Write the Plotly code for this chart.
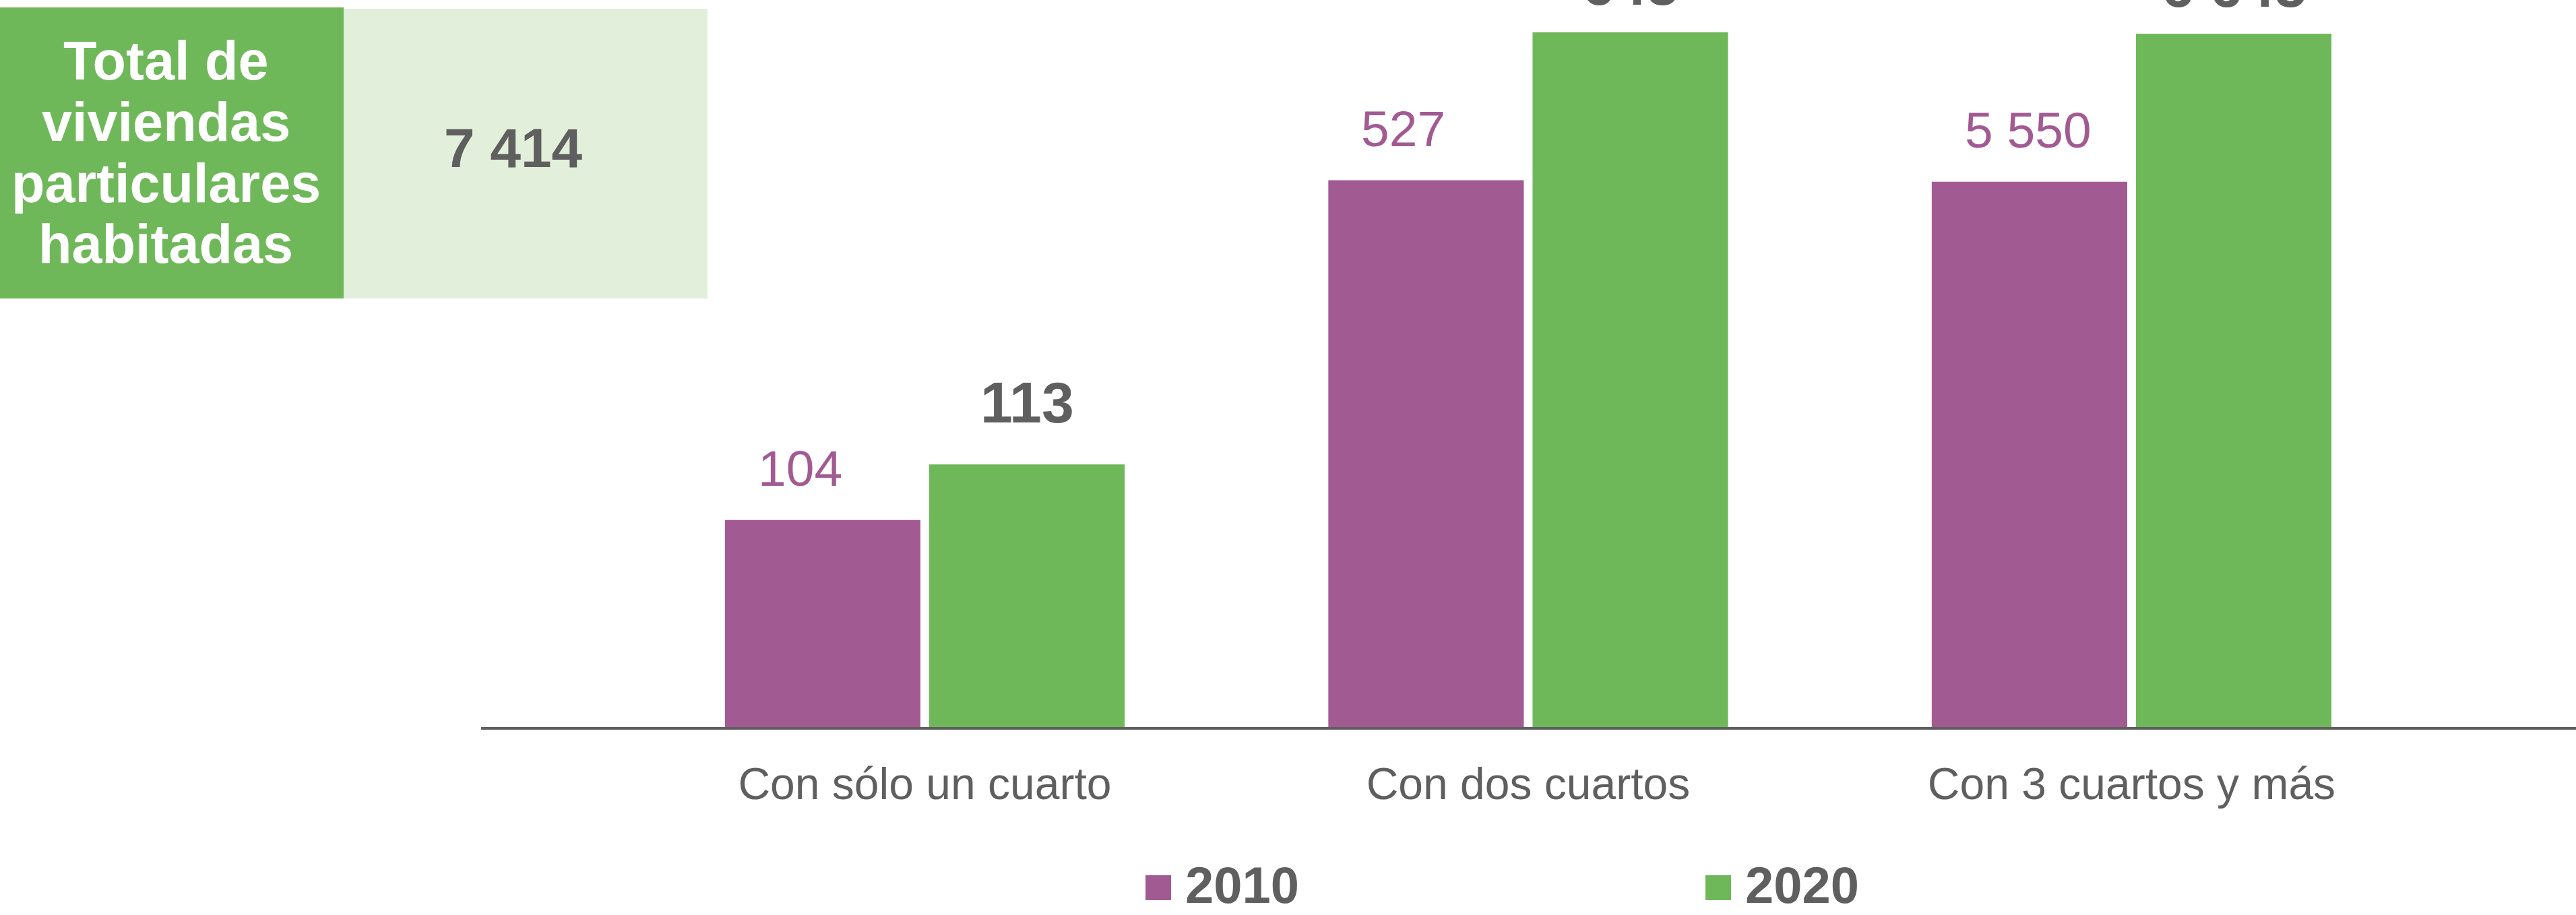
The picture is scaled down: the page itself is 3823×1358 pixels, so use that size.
import plotly.graph_objects as go

# ---------------- data ----------------
categories = ["Con sólo un cuarto", "Con dos cuartos", "Con 3 cuartos y más"]
series_names = ["2010", "2020"]
labels_2010 = ["104", "527", "5 550"]
labels_2020 = ["113", "645", "6 645"]
# bar lengths as drawn in the picture (relative units, tallest = 100)
bar_len_2010 = [29.8, 78.7, 78.5]
bar_len_2020 = [37.8, 100.0, 99.8]
total_title = ["Total de", "viviendas", "particulares", "habitadas"]
total_value = "7 414"

# ---------------- style ----------------
W, H = 3823, 1358
PL, PR, PT, PB = 714, 3823, 0, 1079
PURPLE = "#A25A93"
GREEN = "#6FB85A"
LIGHT = "#E2EFDA"
GREY = "#5F5F5F"
FONT = "Liberation Sans, Arial, sans-serif"
BARGAP, BARGROUPGAP = 0.323, 0.043
YMAX = 100 * (PB - PT) / 1031.0


def px(x):
    return (x - PL) / (PR - PL)


def py(y):
    return (PB - y) / (PB - PT)


fig = go.Figure()
fig.add_bar(x=categories, y=bar_len_2010, name=series_names[0],
            marker=dict(color=PURPLE, line=dict(width=0)), showlegend=False)
fig.add_bar(x=categories, y=bar_len_2020, name=series_names[1],
            marker=dict(color=GREEN, line=dict(width=0)), showlegend=False)

ann = []
slot = (1 - BARGAP) / 2
barw = slot * (1 - BARGROUPGAP)
lift_2020 = [61, 40, 39]
for i in range(len(categories)):
    left_2010 = i - slot / 2 - barw / 2
    ann.append(dict(x=left_2010, y=bar_len_2010[i], xref="x", yref="y",
                    text=labels_2010[i], showarrow=False, xanchor="left",
                    yanchor="bottom", xshift=47, yshift=50 - 17,
                    font=dict(family=FONT, size=75, color=PURPLE)))
    ann.append(dict(x=i + slot / 2, y=bar_len_2020[i], xref="x", yref="y",
                    text="<b>%s</b>" % labels_2020[i], showarrow=False,
                    xanchor="center", yanchor="bottom",
                    yshift=lift_2020[i] - 19,
                    font=dict(family=FONT, size=86, color=GREY)))

# left summary panel
shapes = [
    dict(type="rect", xref="paper", yref="paper", x0=px(0), x1=px(510),
         y0=py(443), y1=py(11), fillcolor=GREEN, line=dict(width=0), layer="below"),
    dict(type="rect", xref="paper", yref="paper", x0=px(510), x1=px(1050),
         y0=py(443), y1=py(13), fillcolor=LIGHT, line=dict(width=0), layer="below"),
]
baselines = [118, 209, 300, 390]
for t, b in zip(total_title, baselines):
    ann.append(dict(x=px(246), y=py(b - 0.3465 * 81), xref="paper", yref="paper",
                    text="<b>%s</b>" % t, showarrow=False, xanchor="center",
                    yanchor="middle", font=dict(family=FONT, size=81, color="white")))
ann.append(dict(x=px(762), y=py(248 - 0.3465 * 82), xref="paper", yref="paper",
                text="<b>%s</b>" % total_value, showarrow=False, xanchor="center",
                yanchor="middle", font=dict(family=FONT, size=82, color=GREY)))

# legend (drawn manually so the swatches can be large)
for name, col, sx in [(series_names[0], PURPLE, 1700), (series_names[1], GREEN, 2531)]:
    shapes.append(dict(type="rect", xref="paper", yref="paper", x0=px(sx), x1=px(sx + 38),
                       y0=py(1336), y1=py(1299), fillcolor=col, line=dict(width=0)))
    ann.append(dict(x=px(sx + 58), y=py(1341), xref="paper", yref="paper",
                    text="<b>%s</b>" % name, showarrow=False, xanchor="left",
                    yanchor="bottom", borderpad=0, yshift=-16,
                    font=dict(family=FONT, size=76, color=GREY)))

fig.update_layout(
    width=W, height=H, autosize=False,
    margin=dict(l=PL, r=W - PR, t=PT, b=H - PB, pad=0),
    paper_bgcolor="white", plot_bgcolor="white",
    barmode="group", bargap=BARGAP, bargroupgap=BARGROUPGAP,
    annotations=ann, shapes=shapes, showlegend=False,
    font=dict(family=FONT, color=GREY),
)
fig.update_xaxes(range=[-0.7353, 2.7365], showline=True, linecolor=GREY, linewidth=4,
                 ticks="", showgrid=False, zeroline=False,
                 tickfont=dict(family=FONT, size=66, color=GREY), ticklabelstandoff=24)
fig.update_yaxes(range=[0, YMAX], visible=False, showgrid=False, zeroline=False)

fig.write_html("out.html", config={"displayModeBar": False},
               post_script="document.body.style.margin='0';"
                           "document.body.style.padding='0';"
                           "document.body.style.overflow='hidden';")
